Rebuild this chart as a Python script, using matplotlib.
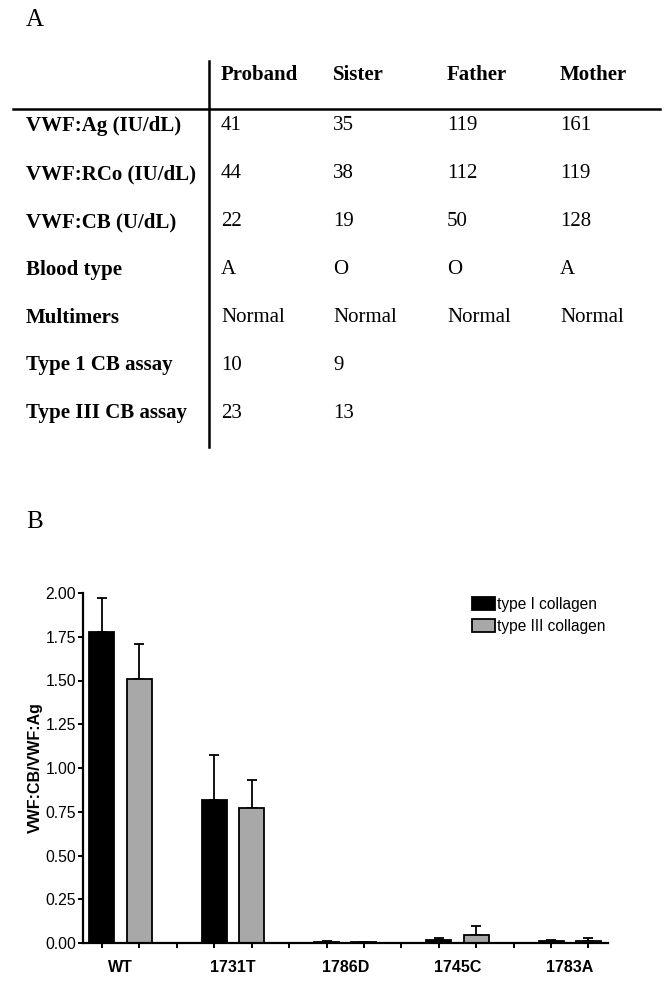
import matplotlib.pyplot as plt
from matplotlib.lines import Line2D
import numpy as np

# panel A table
col_names = ["Proband", "Sister", "Father", "Mother"]
row_names = ["VWF:Ag (IU/dL)", "VWF:RCo (IU/dL)", "VWF:CB (U/dL)", "Blood type",
             "Multimers", "Type 1 CB assay", "Type III CB assay"]
cells = [
    ["41", "35", "119", "161"],
    ["44", "38", "112", "119"],
    ["22", "19", "50", "128"],
    ["A", "O", "O", "A"],
    ["Normal", "Normal", "Normal", "Normal"],
    ["10", "9", "", ""],
    ["23", "13", "", ""],
]

# panel B bars
groups = ["WT", "1731T", "1786D", "1745C", "1783A"]
type1 = [1.78, 0.82, 0.007, 0.015, 0.012]
type1_err = [0.19, 0.255, 0.004, 0.012, 0.008]
type3 = [1.51, 0.77, 0.004, 0.045, 0.012]
type3_err = [0.20, 0.16, 0.003, 0.055, 0.015]

W, H = 667, 981
fig = plt.figure(figsize=(W / 100, H / 100), dpi=100)


def fx(px):
    return px / W


def fy(py):
    return 1 - py / H


serif = "Liberation Serif"
sans = "Liberation Sans"

fig.text(fx(26), fy(20), "A", family=serif, fontsize=18, va="center", ha="left")
fig.text(fx(26), fy(522), "B", family=serif, fontsize=18, va="center", ha="left")

col_x = [221, 333, 447, 560]
row_y = [126, 174, 222, 270, 318, 365, 413]

for x, name in zip(col_x, col_names):
    fig.text(fx(x), fy(75), name, family=serif, weight="bold", fontsize=15, va="center")
for y, name, vals in zip(row_y, row_names, cells):
    fig.text(fx(26), fy(y), name, family=serif, weight="bold", fontsize=15, va="center")
    for x, v in zip(col_x, vals):
        fig.text(fx(x), fy(y), v, family=serif, fontsize=15, va="center")

fig.add_artist(Line2D([fx(209), fx(209)], [fy(61), fy(447)], color="black", lw=1.8))
fig.add_artist(Line2D([fx(13), fx(660)], [fy(109), fy(109)], color="black", lw=1.8))

# panel B chart
ax = fig.add_axes([fx(82.5), fy(943), fx(608.3) - fx(82.5), fy(593) - fy(943)])

idx = np.arange(len(groups))
x1 = idx * 3
x3 = idx * 3 + 1
bw = 0.67

ax.errorbar(x1, type1, yerr=[np.zeros(len(groups)), type1_err], fmt="none",
            ecolor="black", elinewidth=1.3, capsize=3.6, capthick=1.3, zorder=1)
ax.errorbar(x3, type3, yerr=[np.zeros(len(groups)), type3_err], fmt="none",
            ecolor="black", elinewidth=1.3, capsize=3.6, capthick=1.3, zorder=1)
ax.bar(x1, type1, bw, color="black", edgecolor="black", lw=1.3, label="type I collagen", zorder=2)
ax.bar(x3, type3, bw, color="#a8a8a8", edgecolor="black", lw=1.3, label="type III collagen", zorder=2)

ax.set_xlim(-0.52, 13.53)
ax.set_ylim(0, 2.0)
ax.set_yticks(np.arange(0, 2.01, 0.25))
ax.set_yticklabels([f"{v:.2f}" for v in np.arange(0, 2.01, 0.25)], family=sans, fontsize=11.3)

ax.set_xticks(np.arange(14))
ax.set_xticklabels([])
ax.set_xticks(x1 + 0.5, minor=True)
ax.set_xticklabels(groups, minor=True, family=sans, weight="bold", fontsize=11.5)
ax.tick_params(axis="x", which="minor", length=0, pad=12)
ax.tick_params(axis="both", which="major", direction="out", length=3.5, width=1.4)
ax.tick_params(axis="y", which="major", pad=1)

for s in ["top", "right"]:
    ax.spines[s].set_visible(False)
for s in ["left", "bottom"]:
    ax.spines[s].set_linewidth(1.6)

ax.set_ylabel("VWF:CB/VWF:Ag", family=sans, weight="bold", fontsize=11.5, labelpad=1.5)

ax.legend(loc="upper left", bbox_to_anchor=(fx(472), fy(597)), bbox_transform=fig.transFigure,
          frameon=False, borderpad=0, borderaxespad=0, handlelength=1.45, handleheight=0.9,
          handletextpad=0.15, labelspacing=0.45, prop={"family": sans, "size": 11.2})

fig.savefig("out.png", dpi=100)
